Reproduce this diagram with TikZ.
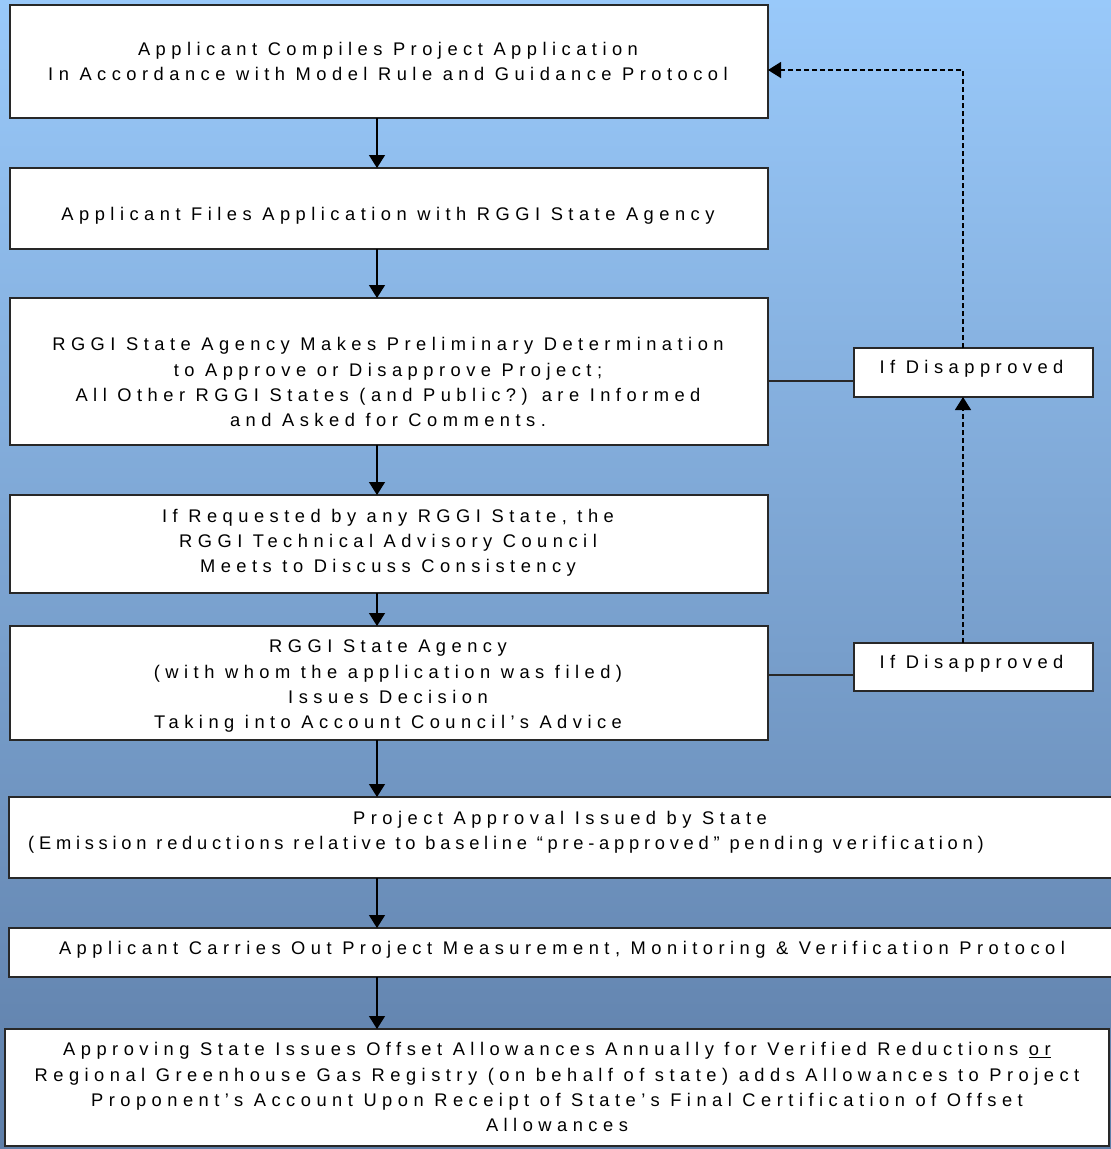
\documentclass[tikz,border=0pt]{standalone}
\usepackage{fontspec}
\setmainfont{Liberation Sans}[LetterSpace=30]
\usetikzlibrary{arrows.meta}
\definecolor{bgtop}{RGB}{153,201,250}
\definecolor{bgbot}{RGB}{94,126,168}
\definecolor{edge}{RGB}{40,40,40}
\begin{document}
\begin{tikzpicture}[x=1pt,y=-1pt,
  box/.style={draw=edge, fill=white, line width=1.4pt, inner sep=0pt, outer sep=0pt},
  txt/.style={align=center, inner sep=0pt, anchor=base, font=\fontsize{18.3}{25.2}\selectfont},
  flow/.style={-{Triangle[width=16pt,length=13pt]}, line width=1.3pt, black},
  dflow/.style={flow, dash pattern=on 5pt off 3pt},
  link/.style={line width=1.3pt, edge}]
\useasboundingbox (0,0) rectangle (1111,1149);
\clip (0,0) rectangle (1111,1149);
\shade[top color=bgtop, bottom color=bgbot] (0,0) rectangle (1111,1149);
\coordinate (ax) at (377,0);
% boxes
\node[box, minimum width=758pt, minimum height=113pt] (b1) at (389,61.5) {};
\node[box, minimum width=758pt, minimum height=81pt] (b2) at (389,208.5) {};
\node[box, minimum width=758pt, minimum height=147pt] (b3) at (389,371.5) {};
\node[box, minimum width=758pt, minimum height=98pt] (b4) at (389,544) {};
\node[box, minimum width=758pt, minimum height=114pt] (b5) at (389,683) {};
\node[box, minimum width=1121pt, minimum height=81pt] (b6) at (569.5,837.5) {};
\node[box, minimum width=1121pt, minimum height=49pt] (b7) at (569.5,952.5) {};
\node[box, minimum width=1104pt, minimum height=117pt] (b8) at (557,1087.5) {};
\node[box, minimum width=239pt, minimum height=49pt] (dA) at (973.5,372.5) {};
\node[box, minimum width=239pt, minimum height=48pt] (dB) at (973.5,667) {};
% texts (anchor base = baseline of last line)
\node[txt] (t1) at (388,80.7) {Applicant Compiles Project Application\\In Accordance with Model Rule and Guidance Protocol};
\node[txt] (t2) at (388,220.5) {Applicant Files Application with RGGI State Agency};
\node[txt] (t3) at (388,426.5) {RGGI State Agency Makes Preliminary Determination\\to Approve or Disapprove Project;\\All Other RGGI States (and Public?) are Informed\\and Asked for Comments.};
\node[txt] (t4) at (388,572.5) {If Requested by any RGGI State, the\\RGGI Technical Advisory Council\\Meets to Discuss Consistency};
\node[txt] (t5) at (388,728.5) {RGGI State Agency\\(with whom the application was filed)\\Issues Decision\\Taking into Account Council’s Advice};
\node[txt] (t6) at (560,824.5) {Project Approval Issued by State};
\node[txt, anchor=base west] (t6b) at (28,849.5) {\addfontfeatures{LetterSpace=26}(Emission reductions relative to baseline “pre-approved” pending verification)};
\node[txt] (t7) at (562,954.5) {Applicant Carries Out Project Measurement, Monitoring \& Verification Protocol};
\node[txt] (t8) at (557,1131.5) {Approving State Issues Offset Allowances Annually for Verified Reductions \underline{or}\\Regional Greenhouse Gas Registry (on behalf of state) adds Allowances to Project\\Proponent’s Account Upon Receipt of State’s Final Certification of Offset\\Allowances};
\node[txt] (tA) at (971.5,373.5) {If Disapproved};
\node[txt] (tB) at (971.5,668.5) {If Disapproved};
% connectors
\draw[flow] (b1.south -| ax) -- (b2.north -| ax);
\draw[flow] (b2.south -| ax) -- (b3.north -| ax);
\draw[flow] (b3.south -| ax) -- (b4.north -| ax);
\draw[flow] (b4.south -| ax) -- (b5.north -| ax);
\draw[flow] (b5.south -| ax) -- (b6.north -| ax);
\draw[flow] (b6.south -| ax) -- (b7.north -| ax);
\draw[flow] (b7.south -| ax) -- (b8.north -| ax);
\draw[link] ([yshift=-8.5pt]dA.west) -- ([yshift=-8.5pt]dA.west -| b3.east);
\draw[link] ([yshift=-8pt]dB.west) -- ([yshift=-8pt]dB.west -| b5.east);
\draw[dflow] ([xshift=-10.5pt]dA.north) |- ([yshift=-8.5pt]b1.east);
\draw[dflow] ([xshift=-10.5pt]dB.north) -- ([xshift=-10.5pt]dA.south);
\end{tikzpicture}
\end{document}
